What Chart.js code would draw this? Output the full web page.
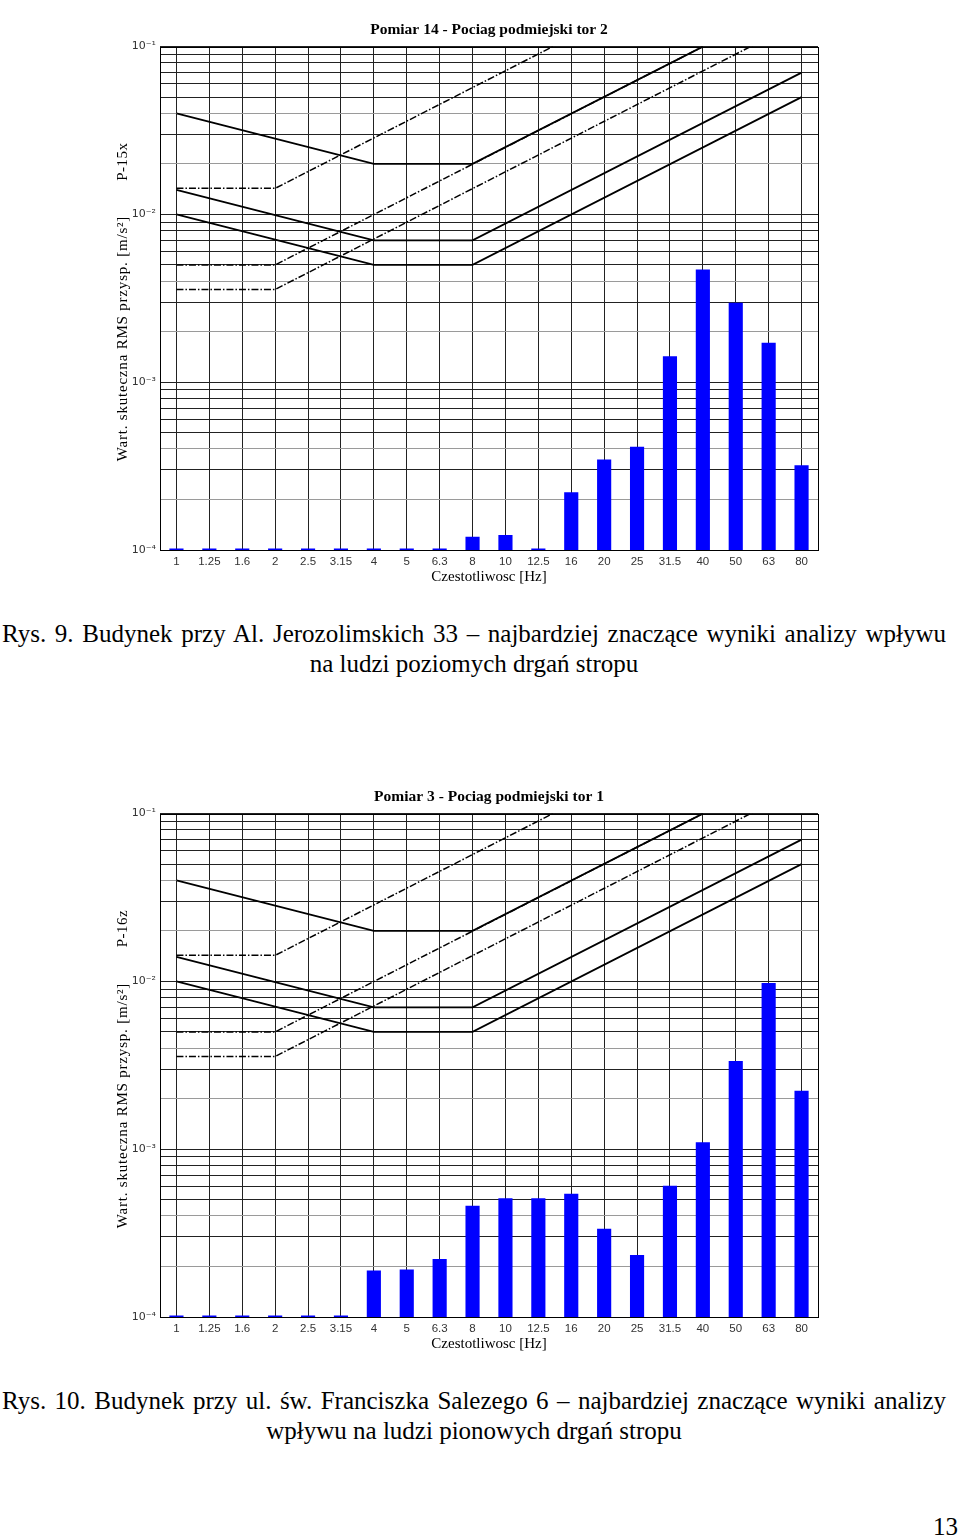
<!DOCTYPE html>
<html lang="pl">
<head>
<meta charset="utf-8">
<title>Rys. 9 i Rys. 10</title>
<script src="https://cdn.jsdelivr.net/npm/chart.js@4.4.1/dist/chart.umd.min.js"></script>
<style>
  html, body { margin: 0; padding: 0; background: #fff; }
  body {
    width: 960px; height: 1537px; position: relative; overflow: hidden;
    font-family: "Liberation Serif", "Times New Roman", serif; color: #000;
  }
  .wykres { position: absolute; left: 100px; width: 740px; height: 580px; }
  .podpis { position: absolute; left: 2px; width: 944px; font-size: 25px; line-height: 30px; }
  .podpis .l1 { text-align: justify; text-align-last: justify; }
  .podpis .l2 { text-align: center; }
  #strona { position: absolute; right: 2px; top: 1512px; font-size: 25px; line-height: 30px; }
</style>
</head>
<body>

<div class="wykres" style="top:15px"><canvas id="pomiar14"></canvas></div>
<div class="podpis" style="top:619px">
  <div class="l1">Rys. 9. Budynek przy Al. Jerozolimskich 33 – najbardziej znaczące wyniki analizy wpływu</div>
  <div class="l2">na ludzi poziomych drgań stropu</div>
</div>

<div class="wykres" style="top:782px"><canvas id="pomiar3"></canvas></div>
<div class="podpis" style="top:1386px">
  <div class="l1">Rys. 10. Budynek przy ul. św. Franciszka Salezego 6 – najbardziej znaczące wyniki analizy</div>
  <div class="l2">wpływu na ludzi pionowych drgań stropu</div>
</div>

<div id="strona">13</div>

<script>
// pasma tercjowe [Hz]
const freqLabels = ["1", "1.25", "1.6", "2", "2.5", "3.15", "4", "5", "6.3", "8",
  "10", "12.5", "16", "20", "25", "31.5", "40", "50", "63", "80"];

// wartosci skuteczne przyspieszen [m/s2]
const rmsPomiar14 = [1.02e-4, 1.02e-4, 1.02e-4, 1.02e-4, 1.02e-4, 1.02e-4, 1.02e-4, 1.02e-4, 1.02e-4,
  1.2e-4, 1.23e-4, 1.02e-4, 2.21e-4, 3.46e-4, 4.13e-4, 1.43e-3, 4.7e-3, 2.98e-3, 1.72e-3, 3.2e-4];
const rmsPomiar3 = [1.02e-4, 1.02e-4, 1.02e-4, 1.02e-4, 1.02e-4, 1.02e-4,
  1.89e-4, 1.92e-4, 2.22e-4, 4.61e-4, 5.11e-4, 5.11e-4, 5.42e-4, 3.36e-4, 2.34e-4,
  6.05e-4, 1.1e-3, 3.36e-3, 9.77e-3, 2.23e-3];

// krzywe graniczne (wezly, reszta null - linia prosta miedzy wezlami)
const _ = null;
// pionowe (linie ciagle)
const curveZ1  = [0.01,  _, _, _, _, _, 0.005, _, _, 0.005, _, _, _, _, _, _, _, _, _, 0.05];
const curveZ14 = [0.014, _, _, _, _, _, 0.007, _, _, 0.007, _, _, _, _, _, _, _, _, _, 0.07];
const curveZ4  = [0.04,  _, _, _, _, _, 0.02,  _, _, 0.02,  _, _, _, _, _, _, 0.1, _, _, _];
// poziome (linie kreska-kropka)
const curveX1  = [0.00357, _, _, 0.00357, _, _, _, _, _, _, _, _, _, _, _, _, _, _, _, 0.143];
const curveX14 = [0.005,   _, _, 0.005,   _, _, _, _, _, _, _, _, _, _, _, _, 0.1, _, _, _];
const curveX4  = [0.0143,  _, _, 0.0143,  _, _, _, _, _, _, _, _, _, _, _, _, _, _, _, 0.571];

// os Y
const yDecades = [1e-4, 1e-3, 1e-2, 1e-1];
const yTickLabels = ["10⁻⁴", "10⁻³", "10⁻²", "10⁻¹"];
const yMantissa = [1, 2, 3, 4, 5, 6, 7, 8, 9];

const yTicks = [];
yDecades.slice(0, 3).forEach((d) => yMantissa.forEach((m) => yTicks.push(+(m * d).toPrecision(3))));
yTicks.push(yDecades[3]);

const ramka = {
  id: "ramka",
  beforeDatasetsDraw(chart) {
    const { ctx, chartArea: a } = chart;
    ctx.save();
    ctx.strokeStyle = "#000";
    ctx.lineWidth = 1;
    ctx.strokeRect(Math.round(a.left) + 0.5, Math.round(a.top) + 0.5,
      Math.round(a.right - a.left), Math.round(a.bottom - a.top));
    ctx.restore();
  },
  afterDraw(chart, args, opts) {
    const { ctx, chartArea: a } = chart;
    ctx.save();
    ctx.fillStyle = "#000";
    ctx.textAlign = "center";
    ctx.textBaseline = "middle";
    ctx.font = '15px "Liberation Serif", serif';
    ctx.letterSpacing = "0.8px";
    ctx.translate(a.left - 37, a.top + 292);
    ctx.rotate(-Math.PI / 2);
    ctx.fillText("Wart. skuteczna RMS przysp. [m/s²]", 0, 0);
    ctx.letterSpacing = "0.5px";
    ctx.fillText(opts.czujnik, 177, 0);
    ctx.restore();
  },
};

function linia(dane, kreska) {
  return {
    type: "line",
    data: dane,
    borderColor: "#000",
    borderWidth: kreska ? 1.5 : 1.8,
    borderDash: kreska ? [7, 2, 1.5, 2] : [],
    pointRadius: 0,
    spanGaps: true,
    order: 0,
  };
}

function rysuj(id, tytul, czujnik, wartosci) {
  return new Chart(document.getElementById(id), {
    type: "bar",
    data: {
      labels: freqLabels,
      datasets: [
        linia(curveZ4, false),
        linia(curveZ14, false),
        linia(curveZ1, false),
        linia(curveX4, true),
        linia(curveX14, true),
        linia(curveX1, true),
        {
          type: "bar",
          data: wartosci,
          backgroundColor: "#0000ff",
          barPercentage: 0.43,
          categoryPercentage: 1,
          order: 1,
        },
      ],
    },
    options: {
      responsive: true,
      maintainAspectRatio: false,
      animation: false,
      layout: { padding: { right: 22 } },
      plugins: {
        legend: { display: false },
        tooltip: { enabled: false },
        title: {
          display: true,
          text: tytul,
          color: "#000",
          fullSize: false,
          font: { family: '"Liberation Serif", serif', size: 15.5, weight: "bold" },
          padding: { top: 6, bottom: 7 },
        },
        ramka: { czujnik: czujnik },
      },
      scales: {
        x: {
          offset: true,
          grid: { offset: false, color: "#222", lineWidth: 1, drawTicks: false },
          border: { display: false },
          ticks: {
            color: "#333",
            font: { family: '"Liberation Sans", Arial, sans-serif', size: 11.5 },
            padding: 5,
            maxRotation: 0,
            autoSkip: false,
          },
          title: {
            display: true,
            text: "Czestotliwosc [Hz]",
            color: "#000",
            font: { family: '"Liberation Serif", serif', size: 15 },
            padding: { top: 0, bottom: 9 },
          },
          afterFit(s) { s.height = 45; },
        },
        y: {
          type: "logarithmic",
          min: 1e-4,
          max: 1e-1,
          afterBuildTicks(s) { s.ticks = yTicks.map((v) => ({ value: v })); },
          grid: {
            drawTicks: false,
            lineWidth: 1,
            color(c) {
              const v = c.tick ? c.tick.value : 0;
              const m = Math.round(v / Math.pow(10, Math.floor(Math.log10(v) + 1e-9)));
              return (m === 2 || m === 4) ? "#9a9a9a" : "#222";
            },
          },
          border: { display: false },
          ticks: {
            autoSkip: false,
            padding: 4,
            color: "#333",
            font: { family: '"DejaVu Sans", "Liberation Sans", sans-serif', size: 11 },
            callback(v) {
              const i = yDecades.findIndex((d) => Math.abs(d - v) / d < 1e-6);
              return i >= 0 ? yTickLabels[i] : "";
            },
          },
          afterFit(s) { s.width = 60; },
        },
      },
    },
    plugins: [ramka],
  });
}

rysuj("pomiar14", "Pomiar 14 - Pociag podmiejski tor 2", "P-15x", rmsPomiar14);
rysuj("pomiar3", "Pomiar 3 - Pociag podmiejski tor 1", "P-16z", rmsPomiar3);
</script>
</body>
</html>
